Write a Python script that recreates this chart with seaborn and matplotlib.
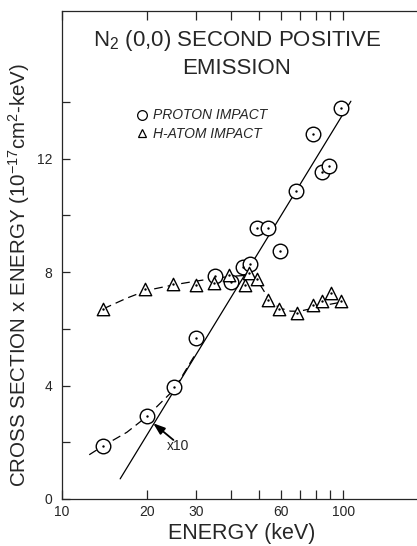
import matplotlib
matplotlib.use("Agg")
import matplotlib.pyplot as plt
import seaborn as sns
import numpy as np
import pandas as pd
from matplotlib.lines import Line2D

# ---- data ----
proton_E = [14, 20, 25, 30, 35, 40, 44, 46.6, 49.2, 54, 59.7, 68, 78, 84, 89, 98]
proton_y = [1.87, 2.92, 3.94, 5.68, 7.85, 7.66, 8.17, 8.29, 9.56, 9.55, 8.75, 10.84, 12.86, 11.54, 11.75, 13.77]

hatom_E = [14, 19.7, 24.8, 29.9, 34.8, 39.3, 44.6, 46.1, 49.3, 54.1, 59.3, 68.6, 78, 84.2, 90.5, 98.6]
hatom_y = [6.70, 7.40, 7.58, 7.55, 7.63, 7.89, 7.55, 7.95, 7.77, 7.00, 6.70, 6.57, 6.85, 6.97, 7.27, 6.97]

fit_E = [16.1, 106.5]
fit_y = [0.71, 14.02]

low_curve_E = [12.5, 14, 17, 20, 25, 30]
low_curve_y = [1.56, 1.87, 2.35, 2.9, 3.85, 5.15]

h_curve_E = [14, 17, 20, 25, 30, 35, 40, 45, 48, 51, 54, 57, 60, 65, 70, 78, 85, 100]
h_curve_y = [6.70, 7.08, 7.35, 7.55, 7.68, 7.78, 7.85, 7.88, 7.80, 7.50, 7.10, 6.85, 6.72, 6.62, 6.62, 6.72, 6.82, 6.95]

xticks = [10, 20, 30, 40, 50, 60, 70, 80, 90, 100]
xticklabels = ["10", "20", "30", "", "", "60", "", "", "", "100"]
yticks = [0, 2, 4, 6, 8, 10, 12, 14]
yticklabels = ["0", "", "4", "", "8", "", "12", ""]

sns.set_style("ticks")
plt.rcParams["font.family"] = ["Liberation Sans", "DejaVu Sans"]
plt.rcParams["mathtext.fontset"] = "custom"
plt.rcParams["mathtext.rm"] = "Liberation Sans"
plt.rcParams["mathtext.it"] = "Liberation Sans:italic"

fig = plt.figure(figsize=(4.17, 5.46), dpi=100)
ax = fig.add_axes([62 / 417, 47 / 546, 1 - 62 / 417, 488 / 546])

lw = 0.9
dash = (0, (7, 4))
sns.lineplot(x=fit_E, y=fit_y, ax=ax, color="black", lw=lw, sort=False)
sns.lineplot(x=low_curve_E, y=low_curve_y, ax=ax, color="black", lw=lw,
             linestyle=dash, sort=False)
sns.lineplot(x=h_curve_E, y=h_curve_y, ax=ax, color="black", lw=lw,
             linestyle=dash, sort=False)

# markers
sns.scatterplot(x=proton_E, y=proton_y, ax=ax, marker="o", s=110,
                facecolor="white", edgecolor="black", linewidth=1.0, zorder=3)
sns.scatterplot(x=proton_E, y=proton_y, ax=ax, marker="o", s=3,
                color="black", linewidth=0, zorder=4)
sns.scatterplot(x=hatom_E, y=hatom_y, ax=ax, marker="^", s=80,
                facecolor="white", edgecolor="black", linewidth=1.0, zorder=3)
sns.scatterplot(x=hatom_E, y=hatom_y, ax=ax, marker="o", s=3,
                color="black", linewidth=0, zorder=4)

ax.set_xscale("log")
ax.set_xlim(10, 183)
ax.set_ylim(0, 17.2)
ax.minorticks_off()
ax.set_xticks(xticks)
ax.set_xticklabels(xticklabels)
ax.set_yticks(yticks)
ax.set_yticklabels(yticklabels)
ax.tick_params(axis="x", which="both", direction="in", top=True, length=6.5,
               width=0.9, labelsize=10, pad=4)
ax.tick_params(axis="y", which="both", direction="in", length=5.8, width=0.9,
               labelsize=10, pad=7)
for s in ["left", "bottom", "top"]:
    ax.spines[s].set_linewidth(0.9)
ax.spines["right"].set_visible(False)

ax.set_xlabel("ENERGY (keV)", fontsize=15.5, va="top")
ax.xaxis.set_label_coords(0.506, -0.05)
ax.set_ylabel("CROSS SECTION x ENERGY (10$^{-17}$cm$^{2}$-keV)", fontsize=14.8)
ax.yaxis.set_label_coords(-0.085, 0.459)

# title inside the axes
ax.text(0.493, 0.928, "N$_2$ (0,0) SECOND POSITIVE", transform=ax.transAxes,
        ha="center", va="baseline", fontsize=16)
ax.text(0.493, 0.871, "EMISSION", transform=ax.transAxes,
        ha="center", va="baseline", fontsize=16)

# legend
handles = [
    Line2D([], [], marker="o", ls="none", mfc="white", mec="black", ms=7, mew=0.9),
    Line2D([], [], marker="^", ls="none", mfc="white", mec="black", ms=6, mew=0.9),
]
leg = ax.legend(handles, ["PROTON IMPACT", "H-ATOM IMPACT"], frameon=False,
                loc="upper left", bbox_to_anchor=(0.17, 0.826),
                handlelength=1.0, handletextpad=0.3, labelspacing=0.35,
                prop={"style": "italic", "size": 10})

# x10 annotation
ax.annotate("", xy=(21.1, 2.67), xytext=(24.9, 2.08),
            arrowprops=dict(arrowstyle="-|>,head_length=0.7,head_width=0.25",
                            color="black", lw=1.3, shrinkA=0, shrinkB=0))
ax.text(25.8, 1.87, "x10", fontsize=10, ha="center", va="center")

fig.savefig("out.png", dpi=100)
